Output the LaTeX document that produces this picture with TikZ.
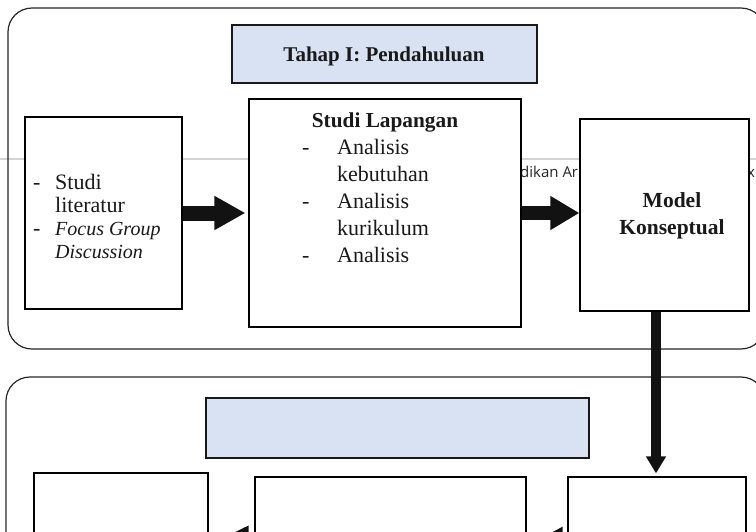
\documentclass[tikz,border=0pt]{standalone}
\usepackage{fontspec}
\setmainfont{Liberation Serif}
\newfontfamily\hdrfont{Open Sans}
\usetikzlibrary{arrows.meta}
\definecolor{phaseblue}{RGB}{217,226,243}
\definecolor{rulegray}{RGB}{212,212,212}

\begin{document}
\begin{tikzpicture}[x=1pt,y=-1pt,
  stageframe/.style={draw=black!85, line width=1.2pt, rounded corners=24pt,
    inner sep=0pt, minimum width=#1},
  stepbox/.style={draw=black, line width=1.2pt, fill=white, inner sep=0pt},
  phasebox/.style={draw=black!90, line width=1.2pt, fill=phaseblue, inner sep=0pt},
  txt/.style={inner sep=0pt, text=black!90},
  fatarrow/.style n args={3}{draw=black!93, line width=#1,
    -{Triangle[length=#2,width=#3]}}
]
\useasboundingbox (0,0) rectangle (756,531);
\clip (0,0) rectangle (756,531);

% running header rule and the header words that show between the boxes
\draw[rulegray, line width=1.5pt] (0,159) -- (756,159);
\node[txt, anchor=base west, text=black!85] (hdrA) at (520,177)
  {\hdrfont\fontsize{15}{18}\selectfont dikan Ar};
\node[txt, anchor=base west, text=black!85] (hdrB) at (747,177)
  {\hdrfont\fontsize{15}{18}\selectfont x};

% stage frames
\node[stageframe=757pt, minimum height=341pt] (stage1) at (386.5,178.5) {};
\node[stageframe=759pt, minimum height=323pt] (stage2) at (385.5,538.5) {};

% stage I
\node[phasebox, minimum width=305pt, minimum height=58pt] (phase1) at (384.5,54) {};
\node[stepbox, minimum width=157pt, minimum height=192pt] (lit) at (103.5,213) {};
\node[stepbox, minimum width=272pt, minimum height=228pt] (sl) at (385,213) {};
\node[stepbox, minimum width=169pt, minimum height=192pt] (mk) at (664.5,215) {};

\node[txt, anchor=base] (phase1txt) at (384,61)
  {\fontsize{21}{24}\selectfont\bfseries Tahap I: Pendahuluan};
\node[txt, anchor=base west] (littxt) at (33,189)
  {\fontsize{22}{23}\selectfont
   \begin{tabular}[t]{@{}p{22pt}@{}l@{}}
   - & Studi\\
     & literatur\\
   - & \fontsize{20}{23}\selectfont\itshape Focus Group\\
     & \fontsize{20}{23}\selectfont\itshape Discussion
   \end{tabular}};
\node[txt, anchor=base] (sltitle) at (385,127)
  {\fontsize{21.3}{24}\selectfont\bfseries Studi Lapangan};
\node[txt, anchor=base west] (sllist) at (302,154)
  {\fontsize{22}{27}\selectfont
   \begin{tabular}[t]{@{}p{35pt}@{}l@{}}
   - & Analisis\\
     & kebutuhan\\
   - & Analisis\\
     & kurikulum\\
   - & Analisis
   \end{tabular}};
\node[txt, anchor=base] (mktxt) at (672,207)
  {\fontsize{21.5}{27}\selectfont\bfseries
   \begin{tabular}[t]{@{}c@{}}Model\\Konseptual\end{tabular}};

% stage II
\node[phasebox, minimum width=383pt, minimum height=60pt] (phase2) at (397.5,428) {};
\node[stepbox, minimum width=174pt, minimum height=177pt] (bl) at (121,561.5) {};
\node[stepbox, minimum width=271pt, minimum height=173pt] (bm) at (390.5,563.5) {};
\node[stepbox, minimum width=178pt, minimum height=173pt] (br) at (657,563.5) {};

% connectors
\coordinate (rowA) at (0,543);
\coordinate (rowB) at (0,544);
\coordinate (dropx) at (656,0);
\draw[fatarrow={15pt}{31pt}{32pt}, shorten >=3pt] (lit.east) -- (lit.east -| sl.west);
\draw[fatarrow={14pt}{29pt}{32pt}] (sl.east) -- (sl.east -| mk.west);
\draw[fatarrow={9.5pt}{17pt}{19pt}, shorten >=3pt] (dropx |- mk.south) -- (dropx |- br.north);
\draw[fatarrow={12pt}{37pt}{32pt}, shorten >=3pt] (bm.west |- rowA) -- (bl.east |- rowA);
\draw[fatarrow={12pt}{33pt}{32pt}, shorten >=3pt] (br.west |- rowB) -- (bm.east |- rowB);
\end{tikzpicture}
\end{document}
